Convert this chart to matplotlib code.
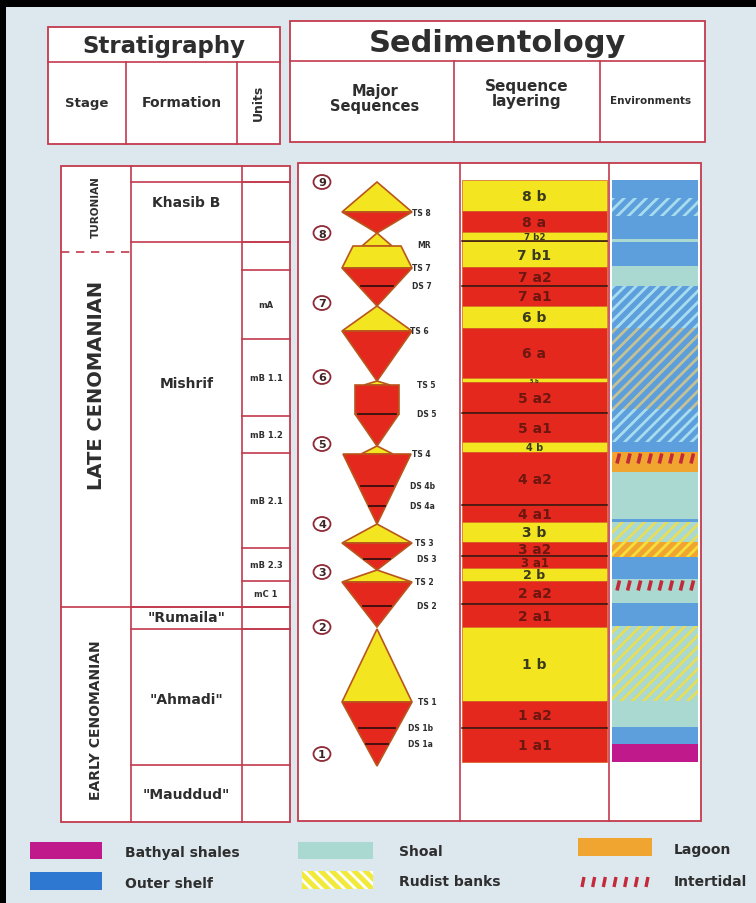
import numpy as np
import matplotlib.pyplot as plt
from matplotlib.patches import Rectangle, Polygon, Ellipse

plt.rcParams['font.family'] = ['DejaVu Sans']
plt.rcParams['hatch.linewidth'] = 2.0

# --- data (depth axis = image rows) ---
stage_names = ['TURONIAN', 'LATE CENOMANIAN', 'EARLY CENOMANIAN']
stage_top = [167, 253, 608]
stage_label_y = [207, 385, 720]
stage_fs = [7.5, 14, 10]

formation_names = ['Khasib B', 'Mishrif', '"Rumaila"', '"Ahmadi"', '"Mauddud"']
formation_top = [183, 243, 608, 630, 766]
formation_label_y = [203, 384, 618, 700, 795]

unit_names = ['', '', 'mA', 'mB 1.1', 'mB 1.2', 'mB 2.1', 'mB 2.3', 'mC 1', '', '']
unit_top = [183, 243, 271, 340, 417, 454, 549, 582, 608, 630]
unit_base = 766

layer_names = ['8 b', '8 a', '7 b2', '7 b1', '7 a2', '7 a1', '6 b', '6 a', '5 b', '5 a2',
               '5 a1', '4 b', '4 a2', '4 a1', '3 b', '3 a2', '3 a1', '2 b', '2 a2', '2 a1',
               '1 b', '1 a2', '1 a1']
layer_top = [181, 212, 233, 242, 268, 287, 307, 329, 379, 383, 414, 443, 453, 506, 523,
             543, 557, 569, 582, 605, 628, 702, 729]
layer_base = 763
layer_splits = [242, 287, 414, 506, 557, 605, 729]   # black lines inside a layer pair

env_top = [181, 199, 217, 240, 243, 267, 287, 329, 410, 443, 453, 466, 473, 520, 523,
           543, 558, 580, 593, 604, 627, 702, 728, 745]
env_base = 763
env_kind = ['outer', 'outer', 'outer', 'shoal', 'outer', 'shoal', 'outer', 'outer', 'outer',
            'outer', 'lagoon', 'lagoon', 'shoal', 'outer', 'shoal', 'lagoon', 'outer', 'shoal',
            'shoal', 'outer', 'shoal', 'shoal', 'outer', 'bathyal']
env_overlay = ['', 'cyan', '', '', '', '', 'cyan', 'rudist', 'cyan', '', 'intertidal', '', '',
               '', 'rudist', 'rudist', '', 'intertidal', '', '', 'rudist', '', '', '']

# major sequences: colour, [top, bottom], [half width top, half width bottom]
major_shapes = [
    ('y', [183, 213], [0, 35]), ('r', [213, 234], [35, 0]),
    ('y', [234, 247], [0, 15]), ('y', [247, 269], [24, 35]), ('r', [269, 307], [35, 0]),
    ('y', [307, 332], [0, 35]), ('r', [332, 382], [35, 0]),
    ('y', [382, 386], [0, 13]), ('r', [386, 415], [22, 22]), ('r', [415, 447], [22, 0]),
    ('y', [447, 455], [0, 16]), ('r', [455, 525], [34, 0]),
    ('y', [525, 544], [0, 35]), ('r', [544, 571], [35, 0]),
    ('y', [571, 583], [0, 35]), ('r', [583, 628], [35, 0]),
    ('y', [630, 703], [0, 35]), ('r', [703, 767], [35, 0]),
]
ds_lines = [287, 415, 487, 507, 560, 607, 729, 745]
surface_names = ['TS 8', 'MR', 'TS 7', 'DS 7', 'TS 6', 'TS 5', 'DS 5', 'TS 4', 'DS 4b', 'DS 4a',
                 'TS 3', 'DS 3', 'TS 2', 'DS 2', 'TS 1', 'DS 1b', 'DS 1a']
surface_y = [213, 245, 269, 287, 332, 386, 415, 455, 487, 507, 544, 560, 583, 607, 703, 729, 745]
surface_x = [412, 417, 412, 412, 410, 417, 417, 412, 410, 410, 415, 417, 415, 417, 418, 408, 408]
boundary_nums = ['9', '8', '7', '6', '5', '4', '3', '2', '1']
boundary_y = [183, 234, 304, 378, 445, 525, 573, 628, 755]

legend_names = ['Bathyal shales', 'Outer shelf', 'Shoal', 'Rudist banks', 'Lagoon', 'Intertidal']

BORDER = '#c33a4d'
RED = '#e5281e'
YELLOW = '#f3e51f'
TXT = '#2e2e2e'
env_colors = {'outer': '#5d9edd', 'shoal': '#a9d9d0', 'lagoon': '#f1a531', 'bathyal': '#c0198c'}
overlay_colors = {('outer', 'cyan'): '#a6dcee', ('outer', 'rudist'): '#c4c294',
                  ('shoal', 'rudist'): '#e6de5a', ('lagoon', 'rudist'): '#f6df3a'}

fig = plt.figure(figsize=(7.56, 9.04), dpi=100)
fig.patch.set_facecolor('#dce7ee')
ax = fig.add_axes([0, 0, 1, 1])
ax.set_xlim(0, 756)
ax.set_ylim(904, 0)
ax.axis('off')

# scan frame
ax.add_patch(Rectangle((0, 0), 756, 8, color='black', lw=0))
ax.add_patch(Rectangle((0, 0), 6, 904, color='black', lw=0))


def box(x0, y0, x1, y1, lw=1.3, fc='white'):
    ax.add_patch(Rectangle((x0, y0), x1 - x0, y1 - y0, fc=fc, ec=BORDER, lw=lw))


def hline(y, x0, x1, **kw):
    ax.plot([x0, x1], [y, y], color=kw.pop('color', BORDER), lw=kw.pop('lw', 1.2), **kw)


def vline(x, y0, y1, **kw):
    ax.plot([x, x], [y0, y1], color=kw.pop('color', BORDER), lw=kw.pop('lw', 1.2), **kw)


# header boxes
box(48, 28, 280, 145)
hline(63, 48, 280)
vline(126, 63, 145)
vline(237, 63, 145)
ax.text(164, 46, 'Stratigraphy', ha='center', va='center', fontsize=16.5, weight='bold', color=TXT)
ax.text(87, 103, 'Stage', ha='center', va='center', fontsize=9.5, weight='bold', color=TXT)
ax.text(182, 103, 'Formation', ha='center', va='center', fontsize=10, weight='bold', color=TXT)
ax.text(258, 103, 'Units', ha='center', va='center', fontsize=9, weight='bold', color=TXT, rotation=90)

box(290, 22, 705, 143)
hline(62, 290, 705)
vline(454, 62, 143)
vline(600, 62, 143)
ax.text(497, 43, 'Sedimentology', ha='center', va='center', fontsize=22, weight='bold', color=TXT)
ax.text(375, 99, 'Major\nSequences', ha='center', va='center', fontsize=10.5, weight='bold',
        color=TXT, linespacing=1.0)
ax.text(527, 94, 'Sequence\nlayering', ha='center', va='center', fontsize=11, weight='bold',
        color=TXT, linespacing=1.0)
ax.text(651, 101, 'Environments', ha='center', va='center', fontsize=7.5, weight='bold', color=TXT)

# stratigraphy body
S_L, S_F, S_U, S_R, S_T, S_B = 61, 131, 242, 290, 167, 823
box(S_L, S_T, S_R, S_B)
vline(S_F, S_T, S_B)
vline(S_U, S_T, S_B)
hline(stage_top[1], S_L, S_F, ls=(0, (5, 4)))
hline(stage_top[2], S_L, S_R)
for name, y, fs in zip(stage_names, stage_label_y, stage_fs):
    ax.text((S_L + S_F) / 2, y, name, ha='center', va='center', rotation=90, fontsize=fs,
            weight='bold', color=TXT)
for name, top, y in zip(formation_names, formation_top, formation_label_y):
    hline(top, S_F, S_R)
    ax.text((S_F + S_U) / 2, y, name, ha='center', va='center', fontsize=10, weight='bold', color=TXT)
unit_bottoms = unit_top[1:] + [unit_base]
for name, top, bot in zip(unit_names, unit_top, unit_bottoms):
    hline(top, S_U, S_R)
    if name:
        ax.text((S_U + S_R) / 2, (top + bot) / 2, name, ha='center', va='center', fontsize=6,
                weight='bold', color=TXT)

# sedimentology body
D_L, D_M, D_E, D_R, D_T, D_B = 298, 460, 609, 701, 164, 822
box(D_L, D_T, D_R, D_B)
vline(D_M, D_T, D_B)
vline(D_E, D_T, D_B)

# sequence layering
layer_bottoms = layer_top[1:] + [layer_base]
for name, top, bot in zip(layer_names, layer_top, layer_bottoms):
    is_b = name.split()[1].startswith('b')
    ax.add_patch(Rectangle((D_M + 2, top), D_E - D_M - 4, bot - top,
                           fc=YELLOW if is_b else RED, ec='#d4601e', lw=0.5))
    h = bot - top
    fs = float(np.clip(0.7 * h, 3.5, 10))
    ax.text((D_M + D_E) / 2, (top + bot) / 2 + 0.5, name, ha='center', va='center', fontsize=fs,
            weight='bold', color='#3a3a1e' if is_b else '#6e1610')
for y in layer_splits:
    hline(y, D_M + 2, D_E - 2, color='#2a1010', lw=1.1)

# environments
env_bottoms = env_top[1:] + [env_base]
EX0, EX1 = D_E + 3, D_R - 3
for kind, over, top, bot in zip(env_kind, env_overlay, env_top, env_bottoms):
    if (kind, over) in overlay_colors:
        ax.add_patch(Rectangle((EX0, top), EX1 - EX0, bot - top, fc=env_colors[kind],
                               ec=overlay_colors[(kind, over)], lw=0, hatch='///'))
    else:
        ax.add_patch(Rectangle((EX0, top), EX1 - EX0, bot - top, fc=env_colors[kind], lw=0))
    if over == 'intertidal':
        for x in np.linspace(EX0 + 5, EX1 - 7, 8):
            ax.plot([x, x + 2.5], [bot - 1.5, top + 1.5], color='#c22a3a', lw=2.6,
                    solid_capstyle='butt')

# major sequences
CX = 377
for col, ys, hws in major_shapes:
    pts = [(CX - hws[0], ys[0]), (CX + hws[0], ys[0]), (CX + hws[1], ys[1]), (CX - hws[1], ys[1])]
    ax.add_patch(Polygon(pts, closed=True, fc=YELLOW if col == 'y' else RED,
                         ec='#b8561c', lw=1.2, joinstyle='miter'))
for y in ds_lines:
    for col, ys, hws in major_shapes:
        if col == 'r' and ys[0] <= y <= ys[1]:
            hw = np.interp(y, ys, hws) * 0.88
            hline(y, CX - hw, CX + hw, color='#3a0e0e', lw=1.3)
            break
for name, x, y in zip(surface_names, surface_x, surface_y):
    ax.text(x, y, name, ha='left', va='center', fontsize=5.5, weight='bold', color=TXT)
for num, y in zip(boundary_nums, boundary_y):
    ax.add_patch(Ellipse((322, y), 17, 14, fc='white', ec='#8e2a36', lw=1.3))
    ax.text(322, y + 0.5, num, ha='center', va='center', fontsize=8, weight='bold', color='#3a2424')

# legend
ax.add_patch(Rectangle((30, 843), 72, 17, fc=env_colors['bathyal'], lw=0))
ax.add_patch(Rectangle((30, 873), 72, 18, fc='#2f78d2', lw=0))
ax.add_patch(Rectangle((298, 843), 75, 17, fc=env_colors['shoal'], lw=0))
ax.add_patch(Rectangle((302, 872), 71, 18, fc='#f2ea3a', ec='white', lw=0, hatch='\\\\\\'))
ax.add_patch(Rectangle((578, 839), 74, 18, fc=env_colors['lagoon'], lw=0))
for x in np.linspace(582, 646, 7):
    ax.plot([x, x + 2], [888, 878], color='#c22a3a', lw=2.4, solid_capstyle='butt')
legend_x = [125, 125, 399, 399, 674, 674]
legend_y = [853, 884, 852, 882, 850, 882]
for name, x, y in zip(legend_names, legend_x, legend_y):
    ax.text(x, y, name, ha='left', va='center', fontsize=10, weight='bold', color=TXT)

fig.savefig('out.png', dpi=100, facecolor=fig.get_facecolor())
